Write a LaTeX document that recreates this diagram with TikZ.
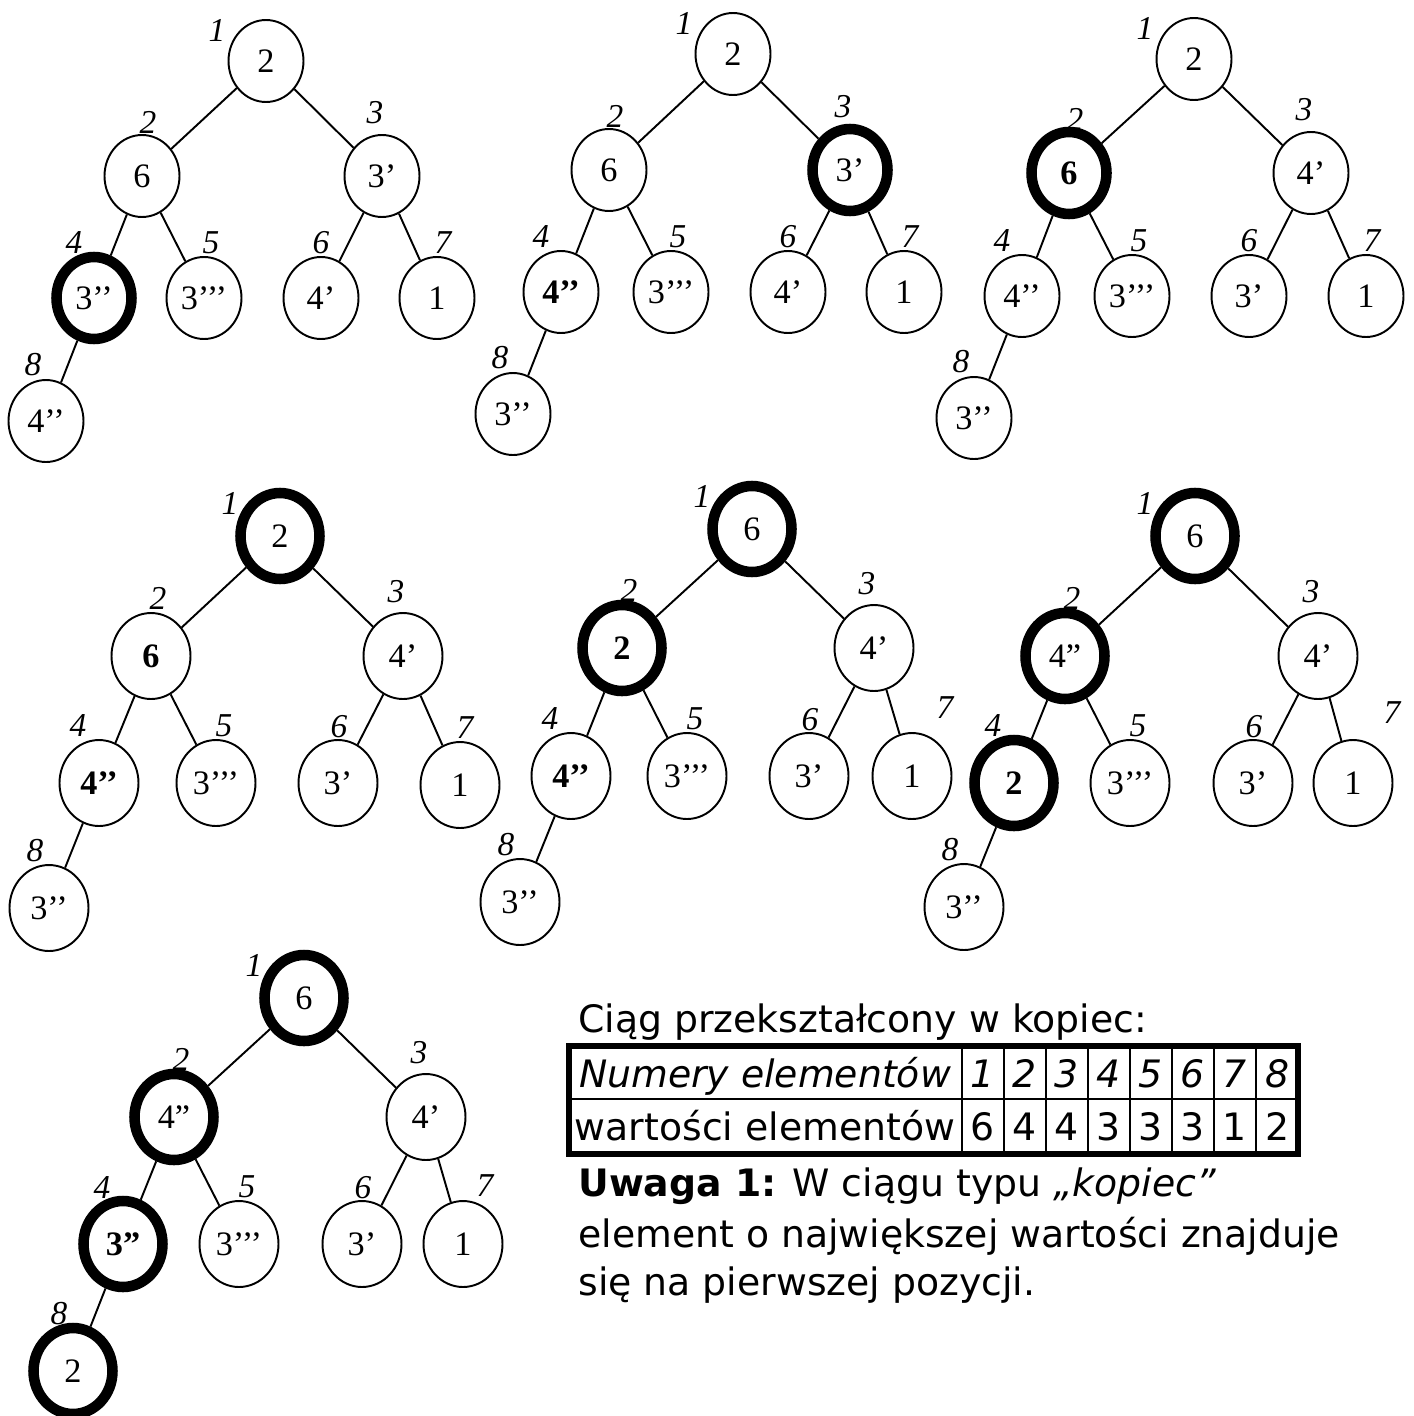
\documentclass[tikz,border=0pt]{standalone}
\usepackage{fontspec}
\setmainfont{Liberation Serif}
\newfontfamily\verdana{DejaVu Sans}
\usepackage{tikz}
\usetikzlibrary{calc, shapes.geometric}

\tikzset{
  wezel/.style={draw, ellipse, line width=1.1pt, inner sep=0pt,
    minimum width=1.5cm, minimum height=1.64cm,
    font=\fontsize{19.5}{20}\selectfont},
  gruby/.style={wezel, line width=6pt},
  nr/.style={inner sep=0pt, font=\fontsize{19}{20}\selectfont\itshape},
  krawedz/.style={line width=1.1pt},
  napis/.style={inner sep=0pt, anchor=base west, font=\verdana\fontsize{21.5}{26}\selectfont},
  tabela/.style={inner sep=0pt, anchor=base, font=\verdana\fontsize{21.5}{26}\selectfont},
}

% numery nad wezlami: nr/dx/dy
\def\nrA{1/-49/-31, 2/6/-54, 3/-7/-63, 4/-20/-55, 5/7/-55, 6/0/-55, 7/6/-55, 8/-13/-56}
\def\nrB{1/-50/-33, 2/7/-58, 3/-7/-64, 4/-21/-57, 5/8/-57, 6/1/-56, 8/-14/-57}
\def\krawedzie{1/2, 1/3, 2/4, 2/5, 3/6, 3/7, 4/8}

\begin{document}
\begin{tikzpicture}[x=0.02cm, y=-0.02cm]
    \useasboundingbox (0,0) rectangle (1413,1416);

    % krok 1
    \node[wezel] (a1) at (266,61) {2};
    \node[wezel] (a2) at (142,176) {6};
    \node[wezel] (a3) at (382,176) {3’};
    \node[gruby] (a4) at (94,298) {3’’};
    \node[wezel] (a5) at (204,298) {3’’’};
    \node[wezel] (a6) at (321,298) {4’};
    \node[wezel] (a7) at (437,298) {1};
    \node[wezel] (a8) at (46,421) {4’’};

    % krok 2
    \node[wezel] (b1) at (733,54) {2};
    \node[wezel] (b2) at (609,170) {6};
    \node[gruby] (b3) at (850,170) {3’};
    \node[wezel] (b4) at (561,292) {\textbf{4’’}};
    \node[wezel] (b5) at (671,292) {3’’’};
    \node[wezel] (b6) at (788,292) {4’};
    \node[wezel] (b7) at (904,292) {1};
    \node[wezel] (b8) at (513,414) {3’’};

    % krok 3
    \node[wezel] (c1) at (1194,59) {2};
    \node[gruby] (c2) at (1069,173) {\textbf{6}};
    \node[wezel] (c3) at (1311,173) {4’};
    \node[wezel] (c4) at (1022,296) {4’’};
    \node[wezel] (c5) at (1132,296) {3’’’};
    \node[wezel] (c6) at (1249,296) {3’};
    \node[wezel] (c7) at (1366,296) {1};
    \node[wezel] (c8) at (974,418) {3’’};

    \begin{scope}[wezel/.append style={minimum width=1.58cm, minimum height=1.72cm}]
    % krok 4
    \node[gruby] (d1) at (280,536) {2};
    \node[wezel] (d2) at (151,656) {\textbf{6}};
    \node[wezel] (d3) at (403,656) {4’};
    \node[wezel] (d4) at (99,783) {\textbf{4’’}};
    \node[wezel] (d5) at (216,783) {3’’’};
    \node[wezel] (d6) at (338,783) {3’};
    \node[wezel] (d7) at (460,785) {1};
    \node[wezel] (d8) at (49,908) {3’’};

    % krok 5
    \node[gruby] (e1) at (752,529) {6};
    \node[gruby] (e2) at (622,648) {\textbf{2}};
    \node[wezel] (e3) at (874,648) {4’};
    \node[wezel] (e4) at (571,776) {\textbf{4’’}};
    \node[wezel] (e5) at (687,776) {3’’’};
    \node[wezel] (e6) at (809,776) {3’};
    \node[wezel] (e7) at (912,776) {1};
    \node[wezel] (e8) at (520,902) {3’’};

    % krok 6
    \node[gruby] (f1) at (1195,536) {6};
    \node[gruby] (f2) at (1065,656) {4”};
    \node[wezel] (f3) at (1318,656) {4’};
    \node[gruby] (f4) at (1014,783) {\textbf{2}};
    \node[wezel] (f5) at (1130,783) {3’’’};
    \node[wezel] (f6) at (1253,783) {3’};
    \node[wezel] (f7) at (1353,783) {1};
    \node[wezel] (f8) at (964,907) {3’’};

    % kopiec
    \node[gruby] (g1) at (304,998) {6};
    \node[gruby] (g2) at (174,1117) {4”};
    \node[wezel] (g3) at (426,1117) {4’};
    \node[gruby] (g4) at (123,1244) {\textbf{3”}};
    \node[wezel] (g5) at (239,1244) {3’’’};
    \node[wezel] (g6) at (362,1244) {3’};
    \node[wezel] (g7) at (463,1244) {1};
    \node[gruby] (g8) at (73,1371) {2};
    \end{scope}

    \foreach \t in {a,b,c,d,e,f,g}
        \foreach \p/\c in \krawedzie
            \draw[krawedz] (\t\p) -- (\t\c);

    % numery elementow
    \foreach \t in {a,b,c}
        \foreach \i/\dx/\dy in \nrA
            \node[nr] (\t\i n) at ($(\t\i)+(\dx,\dy)$) {\i};
    \foreach \t in {d,e,f,g}
        \foreach \i/\dx/\dy in \nrB
            \node[nr] (\t\i n) at ($(\t\i)+(\dx,\dy)$) {\i};
    \node[nr] (d7n) at ($(d7)+(5,-57)$) {7};
    \node[nr] (e7n) at ($(e7)+(33,-68)$) {7};
    \node[nr] (f7n) at ($(f7)+(39,-70)$) {7};
    \node[nr] (g7n) at ($(g7)+(22,-58)$) {7};

    % tablica
    \node[napis] (tytul) at (578,1032) {Ciąg przekształcony w kopiec:};
    \draw[line width=0.11cm] (569,1046) rectangle (1298,1154);
    \draw[krawedz] (569,1099) -- (1298,1099);
    \foreach \x in {962,1004,...,1256}
        \draw[krawedz] (\x,1046) -- (\x,1154);
    \node[tabela] (wiersz1) at (765,1087) {\itshape Numery elementów};
    \node[tabela] (wiersz2) at (765,1140) {wartości elementów};
    \foreach \w [count=\k] in {6,4,4,3,3,3,1,2} {
        \node[tabela] (numer\k) at ({941+42*\k},1087) {\itshape\k};
        \node[tabela] (wart\k) at ({941+42*\k},1140) {\w};
    }

    \node[napis] (uwaga1) at (578,1196) {\textbf{Uwaga 1:} W ciągu typu \textit{„kopiec”}};
    \node[napis] (uwaga2) at (578,1247) {element o największej wartości znajduje};
    \node[napis] (uwaga3) at (578,1295) {się na pierwszej pozycji.};
\end{tikzpicture}
\end{document}
